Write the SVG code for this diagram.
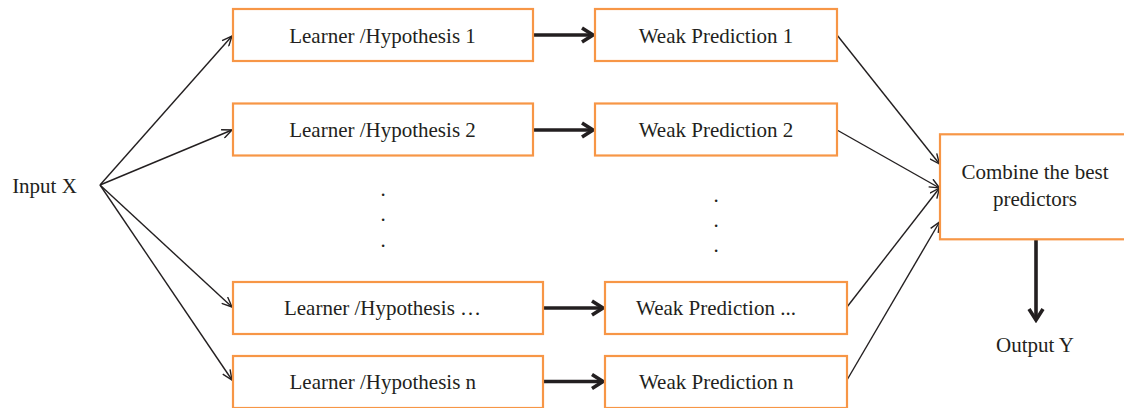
<svg xmlns="http://www.w3.org/2000/svg" width="1124" height="408" viewBox="0 0 1124 408">
<style>
.box{fill:#fff;stroke:#F79646;stroke-width:2.2}
.t{font-family:"Liberation Serif","Times New Roman",serif;font-size:21px;fill:#231f20;text-anchor:middle}
.thin{stroke:#231f20;stroke-width:1.4;fill:none}
.thick{stroke:#231f20;stroke-width:3.6;fill:none}
</style>
<defs>
<marker id="ah" markerUnits="userSpaceOnUse" viewBox="0 0 12 10" markerWidth="12" markerHeight="10" refX="11" refY="5" orient="auto">
<path d="M1,0.6 L11,5 L1,9.4" fill="none" stroke="#231f20" stroke-width="1.4"/>
</marker>
<marker id="ahb" markerUnits="userSpaceOnUse" viewBox="0 0 16 18" markerWidth="16" markerHeight="18" refX="13" refY="9" orient="auto">
<path d="M2,2 L13,9 L2,16" fill="none" stroke="#231f20" stroke-width="3.6"/>
</marker>
</defs>
<rect width="1124" height="408" fill="#fff"/>
<g id="connectors">
<line class="thin" x1="100" y1="185" x2="232" y2="36" marker-end="url(#ah)"/>
<line class="thin" x1="100" y1="185" x2="232" y2="130" marker-end="url(#ah)"/>
<line class="thin" x1="100" y1="185" x2="232" y2="307" marker-end="url(#ah)"/>
<line class="thin" x1="100" y1="185" x2="232" y2="380" marker-end="url(#ah)"/>
<line class="thick" x1="533" y1="35" x2="593" y2="35" marker-end="url(#ahb)"/>
<line class="thick" x1="533" y1="130" x2="593" y2="130" marker-end="url(#ahb)"/>
<line class="thick" x1="543" y1="308" x2="603" y2="308" marker-end="url(#ahb)"/>
<line class="thick" x1="543" y1="381.5" x2="603" y2="381.5" marker-end="url(#ahb)"/>
<line class="thin" x1="837" y1="35" x2="939.5" y2="164" marker-end="url(#ah)"/>
<line class="thin" x1="837" y1="130" x2="939.5" y2="188" marker-end="url(#ah)"/>
<line class="thin" x1="847" y1="307" x2="939.5" y2="188" marker-end="url(#ah)"/>
<line class="thin" x1="847" y1="380" x2="939.5" y2="222" marker-end="url(#ah)"/>
<line class="thick" x1="1036" y1="240" x2="1036" y2="320" marker-end="url(#ahb)"/>
</g>
<g id="input"><text class="t" x="44.5" y="192.5">Input X</text></g>
<g id="learner1"><rect class="box" x="233" y="9" width="300" height="52"/><text class="t" x="382.5" y="42.5">Learner /Hypothesis 1</text></g>
<g id="learner2"><rect class="box" x="233" y="103.5" width="300" height="52"/><text class="t" x="382.5" y="137">Learner /Hypothesis 2</text></g>
<g id="learnerdots"><rect class="box" x="233" y="282" width="310" height="52"/><text class="t" x="382.5" y="314.5">Learner /Hypothesis …</text></g>
<g id="learnern"><rect class="box" x="233" y="356" width="310" height="52"/><text class="t" x="382.8" y="388.5">Learner /Hypothesis n</text></g>
<g id="weak1"><rect class="box" x="595" y="9" width="242" height="52"/><text class="t" x="716" y="42.5">Weak Prediction 1</text></g>
<g id="weak2"><rect class="box" x="595" y="103.5" width="242" height="52"/><text class="t" x="716" y="137">Weak Prediction 2</text></g>
<g id="weakdots"><rect class="box" x="605" y="282" width="242" height="52"/><text class="t" x="716" y="314.5">Weak Prediction ...</text></g>
<g id="weakn"><rect class="box" x="605" y="356" width="242" height="52"/><text class="t" x="716.3" y="388.5">Weak Prediction n</text></g>
<g id="vdots-left"><text class="t" x="383" y="196">.</text><text class="t" x="383" y="221">.</text><text class="t" x="383" y="247">.</text></g>
<g id="vdots-right"><text class="t" x="716" y="202">.</text><text class="t" x="716" y="227">.</text><text class="t" x="716" y="252">.</text></g>
<g id="combine"><rect class="box" x="940" y="134.3" width="200" height="105"/><text class="t" x="1035" y="179">Combine the best</text><text class="t" x="1035" y="205.5">predictors</text></g>
<g id="output"><text class="t" x="1035" y="352">Output Y</text></g>
</svg>
